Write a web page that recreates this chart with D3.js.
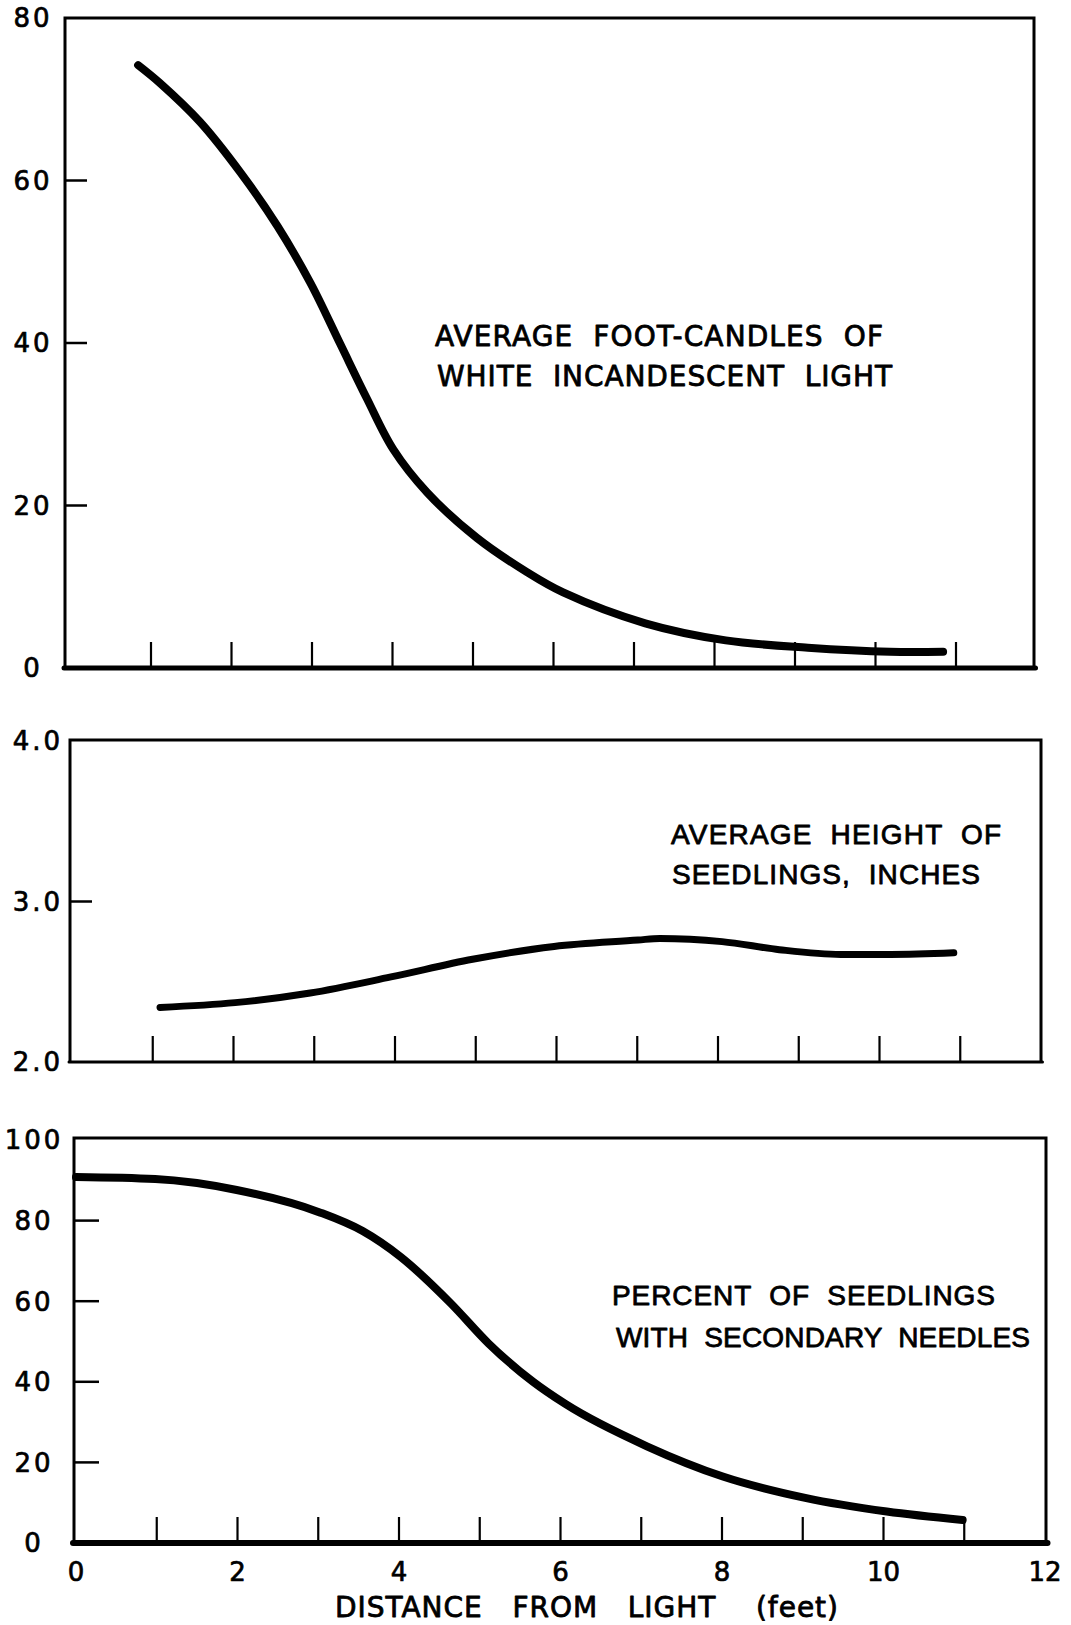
<!DOCTYPE html>
<html>
<head>
<meta charset="utf-8">
<script src="https://cdn.jsdelivr.net/npm/d3@7"></script>
<style>
  html, body { margin: 0; padding: 0; background: #fff; }
  svg { display: block; }
  text { white-space: pre; }
</style>
</head>
<body>
<svg id="chart" width="1071" height="1625"></svg>
<script>
// ---------- DATA ----------
// Panel 1: average foot-candles of white incandescent light
const distance1 = [0.84, 1.11, 1.61, 2.11, 2.57, 2.98, 3.35, 3.68, 4.01, 4.43, 5.05, 5.67, 6.12, 7.14, 8.14, 9.16, 10.18, 10.84];
const footCandles = [74.2, 72.0, 67.2, 61.0, 54.4, 47.4, 39.9, 33.2, 26.9, 21.6, 16.0, 11.8, 9.3, 5.5, 3.4, 2.5, 2.0, 2.0];

// Panel 2: average height of seedlings, inches
const distance2 = [1.09, 2.02, 2.95, 3.95, 4.96, 5.97, 7.01, 7.28, 8.05, 8.76, 9.52, 10.14, 10.92];
const heightInches = [2.34, 2.37, 2.43, 2.53, 2.64, 2.72, 2.76, 2.77, 2.75, 2.70, 2.67, 2.67, 2.68];

// Panel 3: percent of seedlings with secondary needles
const distance3 = [0, 0.98, 1.99, 3.01, 3.55, 4.02, 4.64, 5.11, 5.66, 6.06, 7.07, 8.01, 9.03, 10.04, 10.98];
const percentSecondary = [90.8, 90.3, 87.6, 82.1, 77.4, 71.0, 59.5, 49.5, 40.0, 34.5, 24.0, 16.5, 11.2, 7.8, 5.7];

// Tick values / labels
const yTicks1 = [0, 20, 40, 60, 80];
const yTickLabels1 = ["0", "20", "40", "60", "80"];
const yTicks2 = [2, 3, 4];
const yTickLabels2 = ["2.0", "3.0", "4.0"];
const yTicks3 = [0, 20, 40, 60, 80, 100];
const yTickLabels3 = ["0", "20", "40", "60", "80", "100"];
const xMinorTicks = [1, 2, 3, 4, 5, 6, 7, 8, 9, 10, 11];
const xTickValues = [0, 2, 4, 6, 8, 10, 12];
const xTickLabels = ["0", "2", "4", "6", "8", "10", "12"];

const label1 = ["AVERAGE  FOOT-CANDLES  OF", "WHITE  INCANDESCENT  LIGHT"];
const label2 = ["AVERAGE  HEIGHT  OF", "SEEDLINGS,  INCHES"];
const label3 = ["PERCENT  OF  SEEDLINGS", "WITH  SECONDARY  NEEDLES"];
const xAxisTitle = "DISTANCE   FROM   LIGHT    (feet)";

// ---------- LAYOUT ----------
const svg = d3.select("#chart");
const ink = "#000";
const tickFont = "DejaVu Sans, Verdana, sans-serif";

const panels = [
  {
    frame: {l: 65, r: 1034, t: 18, b: 668}, bottomW: 5,
    xr: [70.5, 1036.5], yd: [0, 80], yr: [668, 18],
    xs: distance1, ys: footCandles, lineW: 8, curve: d3.curveCatmullRom.alpha(0.5),
    yTicks: yTicks1, yLabels: yTickLabels1, yLabelX: 33, yTickLen: 22,
    label: label1, labelFont: "DejaVu Sans, sans-serif",
    labelPos: [{x: 435, y: 346, w: 448}, {x: 437, y: 386, w: 455}]
  },
  {
    frame: {l: 70, r: 1041, t: 740, b: 1062}, bottomW: 3,
    xr: [72, 1041], yd: [2, 4], yr: [1062, 741],
    xs: distance2, ys: heightInches, lineW: 7, curve: d3.curveMonotoneX,
    yTicks: yTicks2, yLabels: yTickLabels2, yLabelX: 38, yTickLen: 22,
    label: label2, labelFont: "Liberation Sans Narrow, Liberation Sans, sans-serif",
    labelPos: [{x: 671, y: 844, w: 330}, {x: 672, y: 884, w: 308}]
  },
  {
    frame: {l: 74, r: 1046, t: 1138, b: 1543}, bottomW: 6,
    xr: [76, 1045], yd: [0, 100], yr: [1543, 1140],
    xs: distance3, ys: percentSecondary, lineW: 8, curve: d3.curveMonotoneX,
    yTicks: yTicks3, yLabels: yTickLabels3, yLabelX: 34, yTickLen: 25,
    label: label3, labelFont: "Liberation Sans Narrow, Liberation Sans, sans-serif",
    labelPos: [{x: 612, y: 1305, w: 383}, {x: 616, y: 1347, w: 414}],
    bottomAxis: true
  }
];

function boldish(sel, w) {
  return sel.attr("stroke", ink).attr("stroke-width", w).attr("stroke-linejoin", "round");
}

panels.forEach(p => {
  const g = svg.append("g");
  const x = d3.scaleLinear().domain([0, 12]).range(p.xr);
  const y = d3.scaleLinear().domain(p.yd).range(p.yr);
  const f = p.frame;

  // frame: left, top, right (3px), bottom heavier
  g.append("path")
    .attr("d", `M${f.l},${f.b} L${f.l},${f.t} L${f.r},${f.t} L${f.r},${f.b}`)
    .attr("fill", "none").attr("stroke", ink).attr("stroke-width", 3)
    .attr("stroke-linejoin", "miter");
  g.append("line")
    .attr("x1", f.l - 1).attr("x2", f.r + 1.5)
    .attr("y1", f.b).attr("y2", f.b)
    .attr("stroke", ink).attr("stroke-width", p.bottomW)
    .attr("stroke-linecap", "round");

  // minor x ticks (upward from bottom)
  g.selectAll("line.xt").data(xMinorTicks).join("line")
    .attr("class", "xt")
    .attr("x1", d => x(d)).attr("x2", d => x(d))
    .attr("y1", f.b).attr("y2", f.b - 26)
    .attr("stroke", ink).attr("stroke-width", 2.2);

  // y ticks (inward from left), skip ends at frame corners
  const inner = p.yTicks.filter((d, i) => i > 0 && i < p.yTicks.length - 1);
  g.selectAll("line.yt").data(inner).join("line")
    .attr("class", "yt")
    .attr("x1", f.l).attr("x2", f.l + p.yTickLen)
    .attr("y1", d => y(d)).attr("y2", d => y(d))
    .attr("stroke", ink).attr("stroke-width", 2.5);

  // y tick labels
  boldish(g.selectAll("text.yl").data(p.yTicks).join("text")
    .attr("class", "yl")
    .attr("x", p.yLabelX)
    .attr("y", d => y(d))
    .attr("dy", "0.36em")
    .attr("text-anchor", "middle")
    .attr("font-family", tickFont)
    .attr("font-size", 26)
    .attr("letter-spacing", 3)
    .attr("fill", ink)
    .text((d, i) => p.yLabels[i]), 0.7);

  // curve
  const line = d3.line()
    .x((d, i) => x(p.xs[i]))
    .y(d => y(d))
    .curve(p.curve);
  g.append("path")
    .datum(p.ys)
    .attr("d", line)
    .attr("fill", "none")
    .attr("stroke", ink)
    .attr("stroke-width", p.lineW)
    .attr("stroke-linecap", "round")
    .attr("stroke-linejoin", "round");

  // panel label
  p.label.forEach((t, i) => {
    const pos = p.labelPos[i];
    boldish(g.append("text")
      .attr("x", pos.x).attr("y", pos.y)
      .attr("font-family", p.labelFont)
      .attr("font-size", 28)
      .attr("textLength", pos.w)
      .attr("lengthAdjust", "spacing")
      .attr("fill", ink)
      .text(t), 0.8);
  });

  if (p.bottomAxis) {
    boldish(g.selectAll("text.xl").data(xTickValues).join("text")
      .attr("class", "xl")
      .attr("x", d => x(d))
      .attr("y", 1581)
      .attr("text-anchor", "middle")
      .attr("font-family", tickFont)
      .attr("font-size", 26)
      .attr("fill", ink)
      .text((d, i) => xTickLabels[i]), 0.7);
    boldish(g.append("text")
      .attr("x", 335).attr("y", 1617)
      .attr("font-family", "DejaVu Sans, sans-serif")
      .attr("font-size", 28)
      .attr("textLength", 503)
      .attr("lengthAdjust", "spacing")
      .attr("fill", ink)
      .text(xAxisTitle), 0.8);
  }
});
</script>
</body>
</html>
